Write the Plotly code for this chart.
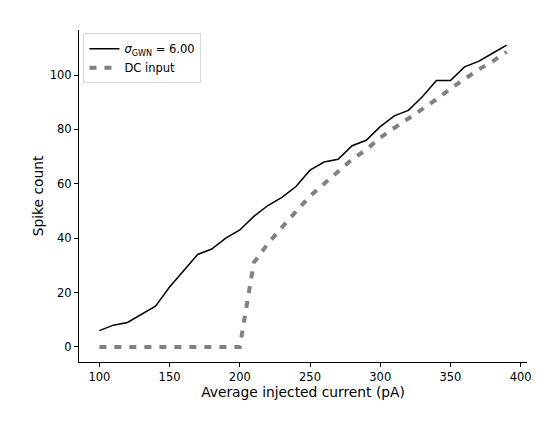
import plotly.graph_objects as go

current_pA = [100, 110, 120, 130, 140, 150, 160, 170, 180, 190,
              200, 210, 220, 230, 240, 250, 260, 270, 280, 290,
              300, 310, 320, 330, 340, 350, 360, 370, 380, 390]
spikes_gwn = [6, 8, 9, 12, 15, 22, 28, 34, 36, 40,
              43, 48, 52, 55, 59, 65, 68, 69, 74, 76,
              81, 85, 87, 92, 98, 98, 103, 105, 108, 111]
spikes_dc = [0, 0, 0, 0, 0, 0, 0, 0, 0, 0,
             0, 31, 38, 44, 50, 55.5, 60, 64.5, 69, 72.5,
             77, 80.5, 84, 87.5, 91, 95, 98.5, 102, 105, 108.5]
y_ticks = [0, 20, 40, 60, 80, 100]
x_ticks = [100, 150, 200, 250, 300, 350, 400]

font = "DejaVu Sans"
fig = go.Figure()
fig.add_trace(go.Scatter(x=current_pA, y=spikes_gwn, mode="lines",
                         line=dict(color="black", width=1.5),
                         name="<i>σ</i><sub>GWN</sub> = 6.00"))
fig.add_trace(go.Scatter(x=current_pA, y=spikes_dc, mode="lines",
                         line=dict(color="#808080", width=4, dash="7px,8px"),
                         name="DC input"))

axis_common = dict(showline=True, linecolor="black", linewidth=1,
                   ticks="outside", ticklen=4, tickwidth=1, tickcolor="black",
                   showgrid=False, zeroline=False, mirror=False, automargin=False,
                   tickfont=dict(family=font, size=11.5, color="black"))
fig.update_layout(
    width=545, height=433,
    margin=dict(l=71, r=26, t=22, b=79),
    paper_bgcolor="white", plot_bgcolor="white",
    font=dict(family=font, color="black"),
    xaxis=dict(range=[85.5, 404.5], tickvals=x_ticks,
               title=dict(text="Average injected current (pA)", font=dict(family=font, size=13.8), standoff=2),
               **axis_common),
    yaxis=dict(range=[-5.55, 116.55], tickvals=y_ticks,
               title=dict(text="Spike count", font=dict(family=font, size=13.8), standoff=2),
               **axis_common),
    legend=dict(x=0.01, y=0.99, xanchor="left", yanchor="top",
                bgcolor="rgba(255,255,255,0.8)", bordercolor="#d6d6d6", borderwidth=1,
                font=dict(family=font, size=11.5), tracegroupgap=0, itemwidth=30),
    showlegend=True,
)
fig.write_html("out.html")
